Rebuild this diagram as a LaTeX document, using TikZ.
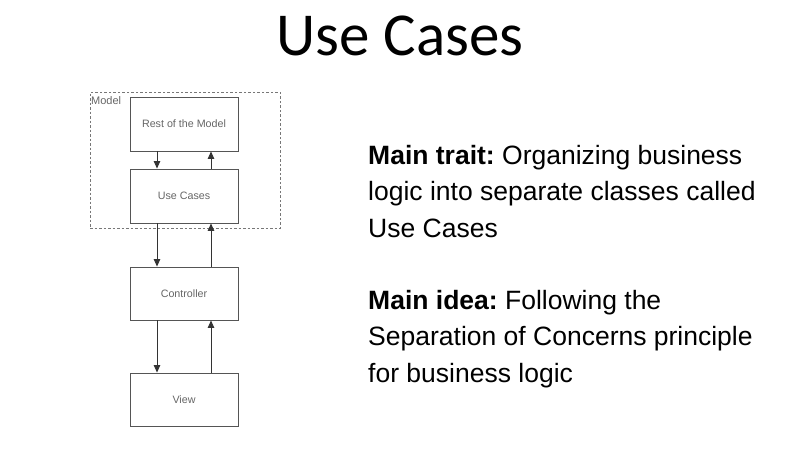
\documentclass[tikz,border=0pt]{standalone}
\usepackage{fontspec}
\setmainfont{Liberation Sans}
\newfontfamily\titlefont{Carlito}
\usetikzlibrary{arrows.meta}
\definecolor{boxline}{HTML}{555555}
\definecolor{boxtext}{HTML}{666666}
\frenchspacing
\begin{document}
\begin{tikzpicture}[x=1pt,y=-1pt,
  blk/.style={draw=boxline,line width=0.9pt,minimum width=108pt,minimum height=54pt,inner sep=0pt,
    font=\fontsize{10.7}{12}\selectfont,text=boxtext},
  conn/.style={draw=black!80,line width=0.8pt,-{Triangle[length=7.5pt,width=6.5pt]}},
  body/.style={anchor=north west,inner sep=0pt,align=left,font=\fontsize{26.5}{36.5}\selectfont}]
\useasboundingbox[fill=white] (0,0) rectangle (810,450);
\node[anchor=base,inner sep=0pt,font=\titlefont\fontsize{61}{70}\selectfont] (title) at (400,55) {Use Cases};
\node[draw=boxline!80,dash pattern=on 2.5pt off 2pt,line width=1pt,minimum width=190pt,minimum height=136pt,inner sep=0pt] (model) at (185,160) {};
\node[anchor=north west,inner sep=0pt,font=\fontsize{11}{13}\selectfont,text=boxtext] (modellbl) at (91,96) {Model};
\node[blk] (rest) at (184,124) {Rest of the Model};
\node[blk] (uc) at (184,196) {Use Cases};
\node[blk,minimum height=53pt] (ctrl) at (184,293.5) {Controller};
\node[blk,minimum height=53pt] (view) at (184,399.5) {View};
\draw[conn] ([xshift=-27pt]rest.south) -- ([xshift=-27pt]uc.north);
\draw[conn] ([xshift=27pt]uc.north) -- ([xshift=27pt]rest.south);
\draw[conn] ([xshift=-27pt]uc.south) -- ([xshift=-27pt]ctrl.north);
\draw[conn] ([xshift=27pt]ctrl.north) -- ([xshift=27pt]uc.south);
\draw[conn] ([xshift=-27pt]ctrl.south) -- ([xshift=-27pt]view.north);
\draw[conn] ([xshift=27pt]view.north) -- ([xshift=27pt]ctrl.south);
\node[body] (trait) at (368,145)
  {\textbf{Main trait:} Organizing business\\logic into separate classes called\\Use Cases};
\node[body] (idea) at (368,290)
  {\textbf{Main idea:} Following the\\Separation of Concerns principle\\for business logic};
\end{tikzpicture}
\end{document}
